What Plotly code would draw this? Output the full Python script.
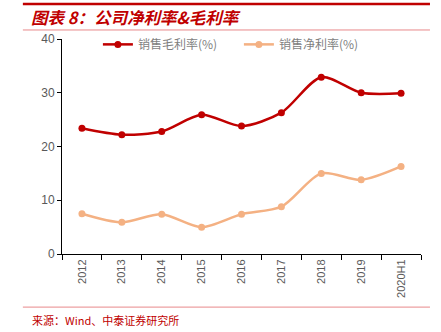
import plotly.graph_objects as go

years = ["2012", "2013", "2014", "2015", "2016", "2017", "2018", "2019", "2020H1"]
gross_margin = [23.4, 22.2, 22.8, 25.9, 23.8, 26.3, 32.9, 30.0, 29.9]
net_margin = [7.5, 5.9, 7.4, 5.0, 7.4, 8.8, 15.0, 13.8, 16.3]
y_ticks = [0, 10, 20, 30, 40]

DARK_RED = "#C00000"
PEACH = "#F4B183"
PINK = "#E8888A"
CJK = "Noto Sans CJK SC"

fig = go.Figure()
fig.add_trace(go.Scatter(
    x=years, y=gross_margin, name="销售毛利率(%)", mode="lines+markers",
    line=dict(color=DARK_RED, width=2.5, shape="spline", smoothing=0.8),
    marker=dict(color=DARK_RED, size=7),
))
fig.add_trace(go.Scatter(
    x=years, y=net_margin, name="销售净利率(%)", mode="lines+markers",
    line=dict(color=PEACH, width=2.5, shape="spline", smoothing=0.8),
    marker=dict(color=PEACH, size=7),
))

fig.update_layout(
    width=441, height=332,
    margin=dict(l=62, r=20, t=39, b=78),
    paper_bgcolor="white", plot_bgcolor="white",
    font=dict(family=CJK, color="#595959", size=11),
    showlegend=True,
    legend=dict(
        orientation="h", x=0.1, y=0.975, xanchor="left", yanchor="middle",
        bgcolor="rgba(0,0,0,0)", font=dict(size=12, color="#7F7F7F", family=CJK),
        itemwidth=30, tracegroupgap=0, entrywidth=96,
    ),
    xaxis=dict(
        type="category", showgrid=False, showline=True, linecolor="black", linewidth=1,
        ticks="outside", tickson="boundaries", ticklen=5, tickcolor="black",
        tickangle=-90, tickfont=dict(family="Liberation Sans", size=11, color="#595959"),
        range=[-0.5, len(years) - 0.5],
    ),
    yaxis=dict(
        range=[0, 40], tickvals=y_ticks, showgrid=False, zeroline=False,
        showline=True, linecolor="black", linewidth=1,
        ticks="outside", ticklen=4, tickcolor="black",
        tickfont=dict(family="Liberation Sans", size=12, color="#595959"),
    ),
)

# Header and footer rules
fig.add_shape(type="line", xref="paper", yref="paper", x0=-0.109, x1=1.025, y0=1.163, y1=1.163,
              line=dict(color=DARK_RED, width=2.5))
fig.add_shape(type="line", xref="paper", yref="paper", x0=-0.109, x1=1.025, y0=1.042, y1=1.042,
              line=dict(color=PINK, width=1))
fig.add_shape(type="line", xref="paper", yref="paper", x0=-0.109, x1=1.025, y0=-0.247, y1=-0.247,
              line=dict(color=PINK, width=1))

fig.add_annotation(
    text="<b><i>图表 8：公司净利率&毛利率</i></b>", xref="paper", yref="paper",
    x=-0.093, y=1.102, xanchor="left", yanchor="middle", showarrow=False,
    font=dict(family=CJK, size=16.5, color=DARK_RED),
)
fig.add_annotation(
    text="来源：Wind、中泰证券研究所", xref="paper", yref="paper",
    x=-0.088, y=-0.307, xanchor="left", yanchor="middle", showarrow=False,
    font=dict(family=CJK, size=11, color=DARK_RED),
)

fig.write_html("out.html")
